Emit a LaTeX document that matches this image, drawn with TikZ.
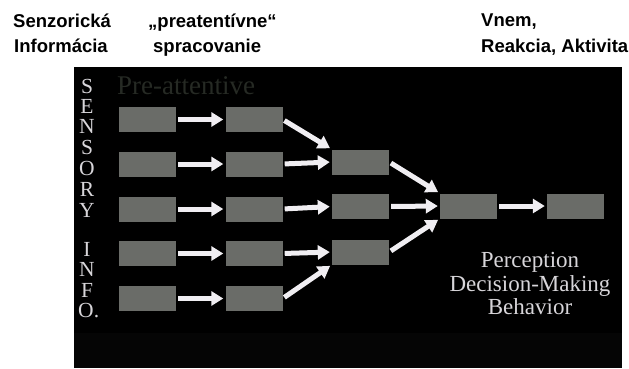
\documentclass[tikz,border=0pt]{standalone}
\usepackage{fontspec}
\setmainfont{Liberation Serif}
\newfontfamily\labfont{Liberation Sans}
\usetikzlibrary{arrows.meta}
\definecolor{boxgray}{RGB}{106,108,104}
\definecolor{arrwhite}{RGB}{240,238,242}
\definecolor{pregray}{RGB}{38,42,36}
\definecolor{txtgray}{RGB}{215,213,217}
\definecolor{bandgray}{RGB}{5,5,5}
\tikzset{
  stage/.style={rectangle, fill=boxgray, draw=none, inner sep=0pt, minimum width=57pt, minimum height=25pt},
  arr/.style={draw=arrwhite, line width=5pt, -{Triangle[length=12pt,width=14pt]}, shorten <=2pt, shorten >=2pt},
  toplab/.style={anchor=base west, inner sep=0pt, font=\labfont\bfseries\fontsize{18.5}{20}\selectfont},
  vlet/.style={anchor=base, inner sep=0pt, text height=14pt, text depth=0pt, text=txtgray, font=\fontsize{21.5}{22}\selectfont},
  perc/.style={anchor=base, inner sep=0pt, text=txtgray, font=\fontsize{23}{24}\selectfont}
}
\begin{document}
\begin{tikzpicture}[x=1pt,y=-1pt]
\useasboundingbox (0,0) rectangle (629,368);
% panel
\fill[black] (74,67) rectangle (622,368);
\fill[bandgray] (74,333) rectangle (622,368);
% top labels
\node[toplab] (l1) at (13,27) {Senzorická};
\node[toplab] (l2) at (14,52) {Informácia};
\node[toplab] (l3) at (148,27) {„preatentívne“};
\node[toplab] (l4) at (153,52) {spracovanie};
\node[toplab] (l5) at (481,26) {Vnem,};
\node[toplab] (l6) at (481,52) {Reakcia, Aktivita};
% pre-attentive
\node[anchor=base west, inner sep=0pt, text=pregray, font=\fontsize{27}{28}\selectfont] (pre) at (117,94) {Pre-attentive};
% vertical letters
\node[vlet] (v1) at (87,93) {S};
\node[vlet] (v2) at (87,113) {E};
\node[vlet] (v3) at (87,133) {N};
\node[vlet] (v4) at (87,154.5) {S};
\node[vlet] (v5) at (87,175.5) {O};
\node[vlet] (v6) at (87,196) {R};
\node[vlet] (v7) at (87,217) {Y};
\node[vlet] (v8) at (87,256) {I};
\node[vlet] (v9) at (87,276.5) {N};
\node[vlet] (v10) at (87,297) {F};
\node[vlet] (v11) at (86,317.5) {O\rlap{.}};
% boxes
\foreach \i/\y in {1/119.5,2/164,3/209,4/253.5,5/298.5}{
  \node[stage] (a\i) at (147.5,\y) {};
  \node[stage] (b\i) at (254,\y) {};
}
\node[stage] (c1) at (360.5,162) {};
\node[stage] (c2) at (360.5,206.5) {};
\node[stage] (c3) at (360.5,252) {};
\node[stage] (d) at (468.5,206) {};
\node[stage] (e) at (575.5,206) {};
% arrows
\foreach \i in {1,...,5}{ \draw[arr] (a\i.east) -- (b\i.west); }
\draw[arr] (b1.east) -- (c1.north west);
\draw[arr] (b2.east) -- (c1.west);
\draw[arr] (b3.east) -- (c2.west);
\draw[arr] (b4.east) -- (c3.west);
\draw[arr] (b5.east) -- (c3.south west);
\draw[arr] (c1.east) -- (d.north west);
\draw[arr] (c2.east) -- (d.west);
\draw[arr] (c3.east) -- (d.south west);
\draw[arr] (d.east) -- (e.west);
% perception text
\node[perc] (p1) at (530,267.5) {Perception};
\node[perc] (p2) at (530,291) {Decision-Making};
\node[perc] (p3) at (530,314) {Behavior};
\end{tikzpicture}
\end{document}
